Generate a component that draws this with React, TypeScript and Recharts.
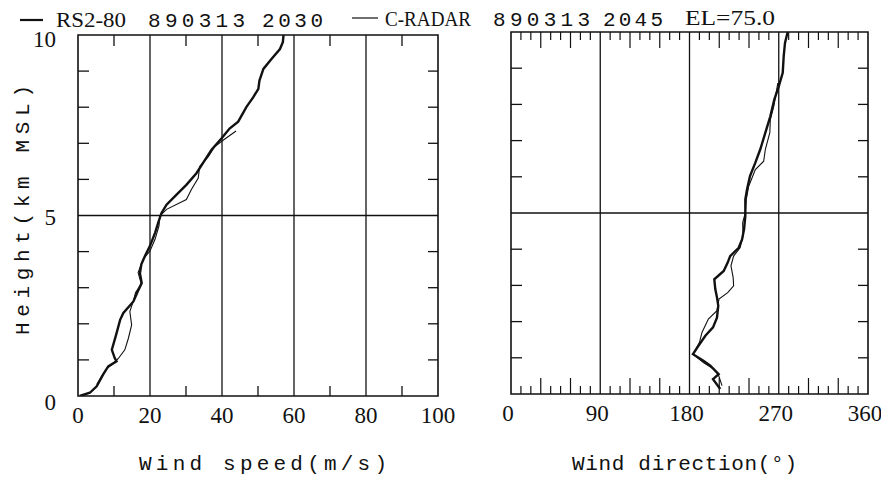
import React from 'react'
import { LineChart, Line, XAxis, YAxis, ReferenceLine, ReferenceArea } from 'recharts'

// wind speed profile (m/s) vs height (km MSL)
const rsSpeedHeight = [0, 0.09, 0.27, 0.6, 0.82, 0.96, 1.05, 1.28, 1.7, 2.11, 2.3, 2.62, 2.94, 3.13, 3.4, 3.65, 3.88, 4.16, 4.52, 4.84, 5.07, 5.3, 5.53, 5.85, 6.17, 6.45, 6.82, 7.14, 7.41, 7.6, 8.01, 8.28, 8.51, 8.74, 9.06, 9.34, 9.61, 9.8, 10.0]
const rsSpeed = [0.5, 3.3, 5.2, 7.0, 8.4, 10.7, 10.2, 9.4, 10.6, 11.7, 12.6, 15.4, 16.8, 17.7, 17.2, 17.6, 18.6, 20.0, 21.4, 22.4, 23.2, 24.6, 26.9, 30.1, 32.9, 34.7, 37.1, 39.9, 42.1, 44.5, 46.8, 48.7, 50.1, 50.4, 51.5, 53.8, 56.1, 56.9, 57.1]
const radarSpeedHeight = [0.32, 0.55, 0.76, 0.92, 1.04, 1.28, 1.6, 1.97, 2.34, 2.64, 2.87, 3.1, 3.42, 3.79, 4.02, 4.34, 4.71, 4.98, 5.17, 5.44, 5.72, 6.04, 6.36, 6.63, 6.91, 7.09, 7.34]
const radarSpeed = [5.2, 6.6, 8.0, 10.0, 11.2, 13.0, 14.0, 14.9, 14.4, 15.4, 16.0, 17.6, 16.7, 18.1, 20.0, 21.4, 22.5, 22.7, 24.6, 30.1, 31.5, 33.4, 33.8, 36.2, 38.0, 40.4, 43.9]

// wind direction profile (deg) vs height (km MSL)
const rsDirHeight = [0.14, 0.41, 0.55, 0.78, 0.92, 1.1, 1.33, 1.61, 1.84, 2.11, 2.44, 2.67, 2.9, 3.17, 3.4, 3.63, 3.81, 4.04, 4.27, 4.55, 4.92, 5.38, 5.65, 6.02, 6.39, 6.76, 7.22, 7.67, 8.13, 8.5, 8.87, 9.33, 9.7, 10.0]
const rsDir = [211, 203.7, 209.4, 201, 194, 183.5, 189, 196, 203.7, 207.7, 209, 207.7, 206, 205, 214.5, 218.5, 221, 229.6, 233, 235, 236.3, 236.3, 238, 241, 246.4, 251.4, 256.5, 261.5, 265.5, 270, 274, 275, 276.3, 279]
const radarDirHeight = [0.23, 0.51, 0.69, 0.87, 1.1, 1.42, 1.7, 2.07, 2.3, 2.62, 2.8, 2.99, 3.22, 3.54, 3.81, 4.04, 4.37, 4.73, 5.01, 5.38, 5.74, 6.2, 6.43, 6.76, 7.22, 7.58, 7.95, 8.41, 8.59]
const radarDir = [212.8, 209.4, 204.4, 194, 183.5, 190, 192.6, 199, 207.7, 209.7, 218.5, 224.5, 224, 221.8, 224.5, 231, 234, 233.6, 236.3, 237.3, 239.7, 246.4, 254.8, 256.5, 261, 261.5, 265, 268, 269]

// axes
const speedTicks = [0, 10, 20, 30, 40, 50, 60, 70, 80, 90, 100]
const speedGrid = [20, 40, 60, 80]
const dirTicks = Array.from({ length: 37 }, (_, i) => i * 10)
const dirLabels = [0, 90, 180, 270, 360]
const dirGrid = [90, 180, 270]
const heightTicks = [0, 1, 2, 3, 4, 5, 6, 7, 8, 9, 10]
const heightLabels = [0, 5, 10]
const heightGrid = [5]

const serif = '"Liberation Serif", serif'
const mono = '"Liberation Mono", monospace'
const ink = '#111'
const AX = 20 // room reserved for each axis

const zip = (hs: number[], xs: number[]) => hs.map((h, i) => ({ x: xs[i], h }))

type TickProps = { x: number; y: number; payload: { value: number } }

function speedBottom({ x, y, payload }: TickProps) {
    const v = payload.value
    return (
        <g>
            {v % 20 !== 0 && <line x1={x} x2={x} y1={y} y2={y - 10} stroke={ink} strokeWidth={1.3} />}
            {v % 20 === 0 && (
                <text x={x} y={y + 27} textAnchor="middle" fontFamily={serif} fontSize={23} fill={ink}>
                    {v}
                </text>
            )}
        </g>
    )
}

function speedTop({ x, y, payload }: TickProps) {
    const v = payload.value
    if (v % 20 === 0) return <g />
    return <line x1={x} x2={x} y1={y} y2={y + 11} stroke={ink} strokeWidth={1.3} />
}

function dirTickLen(v: number) {
    if (v % 90 === 0) return 0
    return v % 30 === 0 ? 16 : 8
}

function dirBottom({ x, y, payload }: TickProps) {
    const v = payload.value
    const len = dirTickLen(v)
    return (
        <g>
            {len > 0 && <line x1={x} x2={x} y1={y} y2={y - len} stroke={ink} strokeWidth={1.2} />}
            {dirLabels.includes(v) && (
                <text x={x - 3} y={y + 27} textAnchor="middle" fontFamily={serif} fontSize={23} fill={ink}>
                    {v}
                </text>
            )}
        </g>
    )
}

function dirTop({ x, y, payload }: TickProps) {
    const len = dirTickLen(payload.value)
    if (!len) return <g />
    return <line x1={x} x2={x} y1={y} y2={y + len} stroke={ink} strokeWidth={1.2} />
}

function heightLeft(labels: boolean) {
    return ({ x, y, payload }: TickProps) => {
        const v = payload.value
        const inner = v !== 0 && v !== 5 && v !== 10
        const dy = v === 0 ? 14 : v === 10 ? 12 : 9
        return (
            <g>
                {inner && <line x1={x} x2={x + 11} y1={y} y2={y} stroke={ink} strokeWidth={1.3} />}
                {labels && heightLabels.includes(v) && (
                    <text x={x - 22} y={y + dy} textAnchor="end" fontFamily={serif} fontSize={23} fill={ink}>
                        {v}
                    </text>
                )}
            </g>
        )
    }
}

function heightRight({ x, y, payload }: TickProps) {
    const v = payload.value
    if (v === 0 || v === 5 || v === 10) return <g />
    return <line x1={x} x2={x - 10} y1={y} y2={y} stroke={ink} strokeWidth={1.3} />
}

function Panel(props: {
    domain: [number, number]
    ticks: number[]
    grid: number[]
    bottom: any
    top: any
    labels: boolean
    rs: { x: number; h: number }[]
    radar: { x: number; h: number }[]
    width: number
    plot: { top: number; right: number; bottom: number; left: number }
}) {
    const { domain, ticks, grid, plot } = props
    const margin = { top: plot.top - AX, right: plot.right - AX, bottom: plot.bottom - AX, left: plot.left - AX }
    return (
        <LineChart width={props.width} height={483} margin={margin}>
            <XAxis type="number" dataKey="x" domain={domain} ticks={ticks} interval={0} height={AX}
                tickSize={0} tickMargin={0} axisLine={false} tickLine={false} tick={props.bottom} allowDataOverflow />
            <XAxis xAxisId="t" orientation="top" type="number" dataKey="x" domain={domain} ticks={ticks} interval={0}
                height={AX} tickSize={0} tickMargin={0} axisLine={false} tickLine={false} tick={props.top} allowDataOverflow />
            <YAxis type="number" dataKey="h" domain={[0, 10]} ticks={heightTicks} interval={0} width={AX}
                tickSize={0} tickMargin={0} axisLine={false} tickLine={false} tick={heightLeft(props.labels)} allowDataOverflow />
            <YAxis yAxisId="r" orientation="right" type="number" domain={[0, 10]} ticks={heightTicks} interval={0} width={AX}
                tickSize={0} tickMargin={0} axisLine={false} tickLine={false} tick={heightRight} allowDataOverflow />
            <ReferenceArea x1={domain[0]} x2={domain[1]} y1={0} y2={10} fill="none" stroke={ink} strokeWidth={1.6} fillOpacity={0} />
            {grid.map((g) => (
                <ReferenceLine key={'g' + g} x={g} stroke={ink} strokeWidth={1.3} />
            ))}
            {heightGrid.map((g) => (
                <ReferenceLine key={'h' + g} y={g} stroke={ink} strokeWidth={1.3} />
            ))}
            <Line data={props.radar} dataKey="h" type="linear" stroke={ink} strokeWidth={1.1} dot={false} isAnimationActive={false} />
            <Line data={props.rs} dataKey="h" type="linear" stroke={ink} strokeWidth={2.4} dot={false} isAnimationActive={false} />
        </LineChart>
    )
}

export default function App() {
    return (
        <div style={{ position: 'absolute', left: 0, top: 0, width: 881, height: 483, background: '#fff', overflow: 'hidden' }}>
            <div style={{ position: 'absolute', left: 0, top: 0 }}>
                <Panel
                    width={470}
                    plot={{ top: 35, right: 32, bottom: 87, left: 78 }}
                    domain={[0, 100]}
                    ticks={speedTicks}
                    grid={speedGrid}
                    bottom={speedBottom}
                    top={speedTop}
                    labels
                    rs={zip(rsSpeedHeight, rsSpeed)}
                    radar={zip(radarSpeedHeight, radarSpeed)}
                />
            </div>
            <div style={{ position: 'absolute', left: 470, top: 0 }}>
                <Panel
                    width={411}
                    plot={{ top: 32, right: 13, bottom: 89, left: 41 }}
                    domain={[0, 360]}
                    ticks={dirTicks}
                    grid={dirGrid}
                    bottom={dirBottom}
                    top={dirTop}
                    labels={false}
                    rs={zip(rsDirHeight, rsDir)}
                    radar={zip(radarDirHeight, radarDir)}
                />
            </div>
            <svg width={881} height={483} style={{ position: 'absolute', left: 0, top: 0, pointerEvents: 'none' }}>
                {/* legend strokes */}
                <line x1={20} x2={43} y1={20} y2={20} stroke={ink} strokeWidth={2.2} />
                <line x1={352} x2={378} y1={18} y2={18} stroke={ink} strokeWidth={1.2} />
                <g fill={ink}>
                    <text x={56} y={27} fontFamily={serif} fontSize={21} textLength={70} lengthAdjust="spacingAndGlyphs">RS2-80</text>
                    <text x={148} y={27} fontFamily={mono} fontSize={21} textLength={97} lengthAdjust="spacing">890313</text>
                    <text x={262} y={27} fontFamily={mono} fontSize={21} textLength={61} lengthAdjust="spacing">2030</text>
                    <text x={385} y={26} fontFamily={serif} fontSize={21} textLength={86} lengthAdjust="spacingAndGlyphs">C-RADAR</text>
                    <text x={493} y={26} fontFamily={mono} fontSize={21} textLength={97} lengthAdjust="spacing">890313</text>
                    <text x={603} y={26} fontFamily={mono} fontSize={21} textLength={60} lengthAdjust="spacing">2045</text>
                    <text x={685} y={25} fontFamily={serif} fontSize={21} textLength={90} lengthAdjust="spacingAndGlyphs">EL=75.0</text>

                    <text x={139} y={470} fontFamily={mono} fontSize={21} textLength={248} lengthAdjust="spacing">Wind speed(m/s)</text>
                    <text x={572} y={470} fontFamily={mono} fontSize={21} textLength={225} lengthAdjust="spacing">Wind direction(°)</text>
                    <text transform="translate(29 335) rotate(-90)" fontFamily={mono} fontSize={21} textLength={250} lengthAdjust="spacing">Height(km MSL)</text>
                </g>
            </svg>
        </div>
    )
}
